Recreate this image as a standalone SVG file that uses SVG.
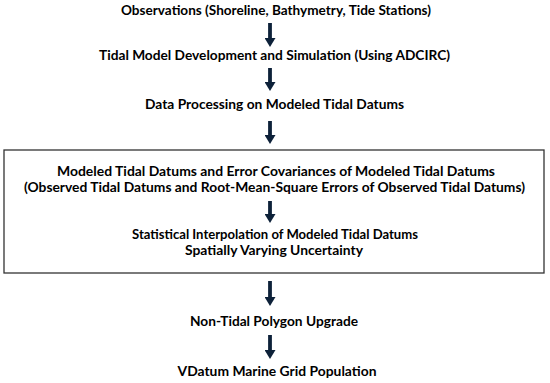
<svg xmlns="http://www.w3.org/2000/svg" width="550" height="383" viewBox="0 0 550 383">
<style>
.t{font-family:Lato,"Liberation Sans",sans-serif;font-weight:700;font-size:14px;fill:#000;text-anchor:middle}
.box{fill:none;stroke:#333;stroke-width:1.3}
.arr{stroke:#0d2139;stroke-width:3.8;fill:none;marker-end:url(#ah)}
</style>
<defs>
<marker id="ah" markerUnits="userSpaceOnUse" markerWidth="9" markerHeight="11" viewBox="0 0 9 11" refX="1" refY="5.5" orient="auto">
<path d="M0,0 L9,5.5 L0,11 z" fill="#0d2139"/>
</marker>
</defs>
<rect x="0" y="0" width="550" height="383" fill="#fff"/>
<g id="n1"><text class="t" x="276" y="15" textLength="310" lengthAdjust="spacingAndGlyphs">Observations (Shoreline, Bathymetry, Tide Stations)</text></g>
<g id="n2"><text class="t" x="274.5" y="60" textLength="351" lengthAdjust="spacingAndGlyphs">Tidal Model Development and Simulation (Using ADCIRC)</text></g>
<g id="n3"><text class="t" x="274.5" y="109" textLength="259" lengthAdjust="spacingAndGlyphs">Data Processing on Modeled Tidal Datums</text></g>
<g id="box">
<rect class="box" x="4" y="150" width="540" height="123"/>
<g id="n4">
<text class="t" x="276" y="176" textLength="438" lengthAdjust="spacingAndGlyphs">Modeled Tidal Datums and Error Covariances of Modeled Tidal Datums</text>
<text class="t" x="274.5" y="192" textLength="501" lengthAdjust="spacingAndGlyphs">(Observed Tidal Datums and Root-Mean-Square Errors of Observed Tidal Datums)</text>
</g>
<g id="n5">
<text class="t" x="275" y="239" textLength="286" lengthAdjust="spacingAndGlyphs">Statistical Interpolation of Modeled Tidal Datums</text>
<text class="t" x="274" y="255" textLength="178" lengthAdjust="spacingAndGlyphs">Spatially Varying Uncertainty</text>
</g>
</g>
<g id="n6"><text class="t" x="274" y="326" textLength="168" lengthAdjust="spacingAndGlyphs">Non-Tidal Polygon Upgrade</text></g>
<g id="n7"><text class="t" x="277" y="376" textLength="199" lengthAdjust="spacingAndGlyphs">VDatum Marine Grid Population</text></g>
<g id="connectors">
<line class="arr" x1="270" y1="23" x2="270" y2="39"/>
<line class="arr" x1="270" y1="68" x2="270" y2="83"/>
<line class="arr" x1="270" y1="121" x2="270" y2="136"/>
<line class="arr" x1="270" y1="201" x2="270" y2="215"/>
<line class="arr" x1="270" y1="281" x2="270" y2="298"/>
<line class="arr" x1="270" y1="335" x2="270" y2="351"/>
</g>
</svg>
